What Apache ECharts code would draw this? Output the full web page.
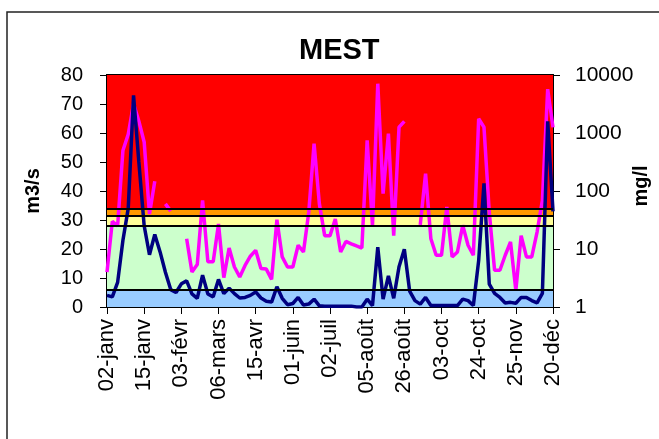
<!DOCTYPE html>
<html lang="fr">
<head>
    <meta charset="UTF-8">
    <title>MEST</title>
    <style>
        body { margin: 0; padding: 0; background-color: #fff; }
        #chart { width: 659px; height: 439px; }
    </style>
    <script src="https://cdn.jsdelivr.net/npm/echarts@6/dist/echarts.min.js"></script>
</head>
<body>
<div id="chart"></div>
<script>
	// labels shown under the axis, one every 7 samples
	var tickLabels = ['02-janv', '15-janv', '03-févr', '06-mars', '15-avr', '01-juin', '02-juil',
		'05-août', '26-août', '03-oct', '24-oct', '25-nov', '20-déc'];
	var labelStep = 7;

	// débit, m3/s (left axis)
	var debit = [
		4, 3.5, 8.5, 23, 34, 73, 50, 28, 18, 25,
		19, 12, 6, 5, 8, 9, 4.5, 3, 11, 4.5,
		3.5, 9.5, 4.6, 6.5, 4.6, 3.1, 3.3, 4, 5.2, 3.1,
		2, 1.7, 7, 3, 0.8, 1.2, 3.3, 0.7, 1, 2.7,
		0.4, 0.3, 0.3, 0.3, 0.3, 0.3, 0.3, 0, 0, 2.7,
		0.5, 20.6, 2.7, 10.7, 3, 13.9, 19.9, 5.5, 2.2, 1,
		3.3, 0.5, 0.5, 0.5, 0.5, 0.5, 0.5, 2.7, 2.2, 0.5,
		16, 42.6, 7.9, 4.7, 3.3, 1.4, 1.6, 1.3, 3.3, 3.3,
		2.2, 1.4, 4.7, 64, 33
	];

	// MEST, mg/l (right log axis), null = no sample
	var mest = [
		4, 30, 25, 500, 950, 3200, 1600, 700, 40, 147,
		null, 60, 45, null, null, 15, 4, 5.4, 69, 6,
		6, 27, 3.2, 10.4, 4.9, 3.3, 5.2, 7.5, 9.5, 4.6,
		4.5, 3, 32, 7.3, 4.9, 4.9, 11.6, 8.9, 43, 654,
		60, 17, 17, 33, 8.9, 13.5, 12.3, 11.3, 10.4, 748,
		25, 7080, 90, 972, 17, 1260, 1590, null, null, 26,
		199, 15, 7.8, 7.8, 53, 7.3, 8.9, 25.6, 11.6, 7.8,
		1760, 1260, 43, 4.3, 4.3, 7.8, 13.2, 1.94, 17, 7.3,
		7.3, 19.6, 69, 5700, 1250
	];

	// quality classes on the mg/l scale
	var classLimits = [1, 2, 25, 38, 50, 10000];
	var classColors = ['#99CCFF', '#CCFFCC', '#FFFF99', '#FF9900', '#FF0000'];

	var categories = [];
	for (var i = 0; i < debit.length; i++) {
		categories.push(String(i));
	}

	var bands = [];
	for (var j = 0; j < classColors.length; j++) {
		bands.push([
			{yAxis: classLimits[j], itemStyle: {color: classColors[j], opacity: 1}},
			{yAxis: classLimits[j + 1]}
		]);
	}
	var limitLines = [];
	for (var k = 1; k < classLimits.length - 1; k++) {
		limitLines.push({yAxis: classLimits[k]});
	}

	var font = "'Liberation Sans', Arial, sans-serif";
	var chart = echarts.init(document.getElementById('chart'));

	var option = {
		animation: false,
		textStyle: {fontFamily: font},
		title: {
			text: 'MEST',
			left: 294,
			top: 31,
			textStyle: {fontFamily: font, fontSize: 29, fontWeight: 'bold', color: '#000'}
		},
		grid: {
			left: 107, right: 106, top: 75, bottom: 132,
			containLabel: false,
			outerBoundsMode: 'none',
			show: true, borderColor: '#000', borderWidth: 2
		},
		graphic: [{
			type: 'rect',
			shape: {x: 7, y: 12, width: 700, height: 500},
			style: {fill: 'none', stroke: '#222', lineWidth: 1.5},
			silent: true
		}, {
			// right axis title
			type: 'text',
			x: 641, y: 186,
			rotation: Math.PI / 2,
			style: {
				text: 'mg/l', fill: '#000', align: 'center', verticalAlign: 'middle',
				font: 'bold 20px ' + font
			},
			silent: true
		}],
		xAxis: {
			type: 'category',
			data: categories,
			boundaryGap: false,
			axisLine: {lineStyle: {color: '#000', width: 2}},
			axisTick: {interval: labelStep - 1, length: 7, lineStyle: {color: '#000'}},
			axisLabel: {
				interval: labelStep - 1,
				rotate: 90,
				margin: 12,
				fontSize: 22,
				color: '#000',
				fontFamily: font,
				formatter: function (v, idx) {
					return idx % labelStep === 0 ? tickLabels[idx / labelStep] : '';
				}
			},
			splitLine: {show: false}
		},
		yAxis: [{
			type: 'value',
			min: 0, max: 80, interval: 10,
			name: 'm3/s',
			nameLocation: 'middle',
			nameRotate: 90,
			nameGap: 64,
			nameTextStyle: {fontFamily: font, fontSize: 20, fontWeight: 'bold', color: '#000'},
			axisLine: {show: true, lineStyle: {color: '#000', width: 2}},
			axisTick: {show: true, length: 7, lineStyle: {color: '#000'}},
			axisLabel: {margin: 24, fontSize: 20, color: '#000', fontFamily: font},
			splitLine: {show: false}
		}, {
			type: 'log',
			logBase: 10,
			min: 1, max: 10000,
			axisLine: {show: true, lineStyle: {color: '#000', width: 2}},
			axisTick: {show: true, length: 7, lineStyle: {color: '#000'}},
			axisLabel: {
				margin: 22, fontSize: 21, color: '#000', fontFamily: font,
				formatter: function (v) { return String(Math.round(v)); }
			},
			splitLine: {show: false}
		}],
		series: [{
			name: 'classes',
			type: 'line',
			yAxisIndex: 1,
			data: [],
			z: 1,
			silent: true,
			markArea: {silent: true, data: bands},
			markLine: {
				silent: true,
				symbol: 'none',
				label: {show: false},
				lineStyle: {color: '#000', width: 2, type: 'solid'},
				data: limitLines
			}
		}, {
			name: 'MEST',
			type: 'line',
			yAxisIndex: 1,
			data: mest,
			z: 3,
			symbol: 'none',
			connectNulls: false,
			lineStyle: {color: '#FF00FF', width: 3.5},
			itemStyle: {color: '#FF00FF'}
		}, {
			name: 'Débit',
			type: 'line',
			yAxisIndex: 0,
			data: debit,
			z: 4,
			symbol: 'none',
			lineStyle: {color: '#000080', width: 3.5},
			itemStyle: {color: '#000080'}
		}]
	};
	chart.setOption(option);
</script>
</body>
</html>
